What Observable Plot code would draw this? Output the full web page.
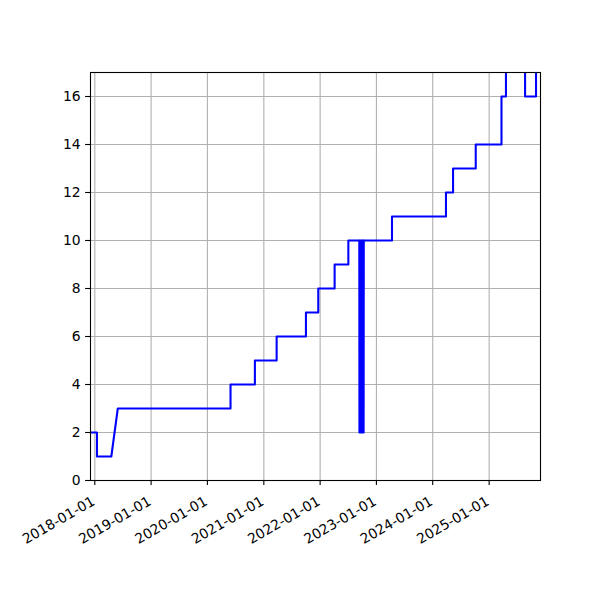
<!DOCTYPE html>
<html>
<head>
<meta charset="utf-8">
<script src="https://cdn.jsdelivr.net/npm/d3@7"></script>
<script src="https://cdn.jsdelivr.net/npm/@observablehq/plot@0.6"></script>
<style>
  html, body { margin: 0; padding: 0; background: #fff; }
</style>
</head>
<body>
<div id="chart"></div>
<script>
// Vertices of the plotted line (date, count)
const dates = [
  "2017-11-20", "2018-01-15", "2018-01-15", "2018-04-18", "2018-05-30",
  "2020-05-30", "2020-05-30", "2020-11-04", "2020-11-04", "2021-03-25", "2021-03-25",
  "2021-10-01", "2021-10-01", "2021-12-20", "2021-12-20", "2022-04-05", "2022-04-05",
  "2022-07-03", "2022-07-03", "2022-09-12",
  "2022-09-13", "2022-09-15", "2022-09-17", "2022-09-19", "2022-09-21", "2022-09-23",
  "2022-09-25", "2022-09-27", "2022-09-29", "2022-10-01", "2022-10-03", "2022-10-05",
  "2022-10-07", "2022-10-09", "2022-10-10", "2022-10-11",
  "2023-04-12", "2023-04-12", "2024-03-27", "2024-03-27", "2024-05-12", "2024-05-12",
  "2024-10-06", "2024-10-06", "2025-03-22", "2025-03-22", "2025-04-20", "2025-04-20",
  "2025-08-22", "2025-08-22", "2025-11-01", "2025-11-01", "2025-12-15"
];
const counts = [
  2, 2, 1, 1, 3,
  3, 4, 4, 5, 5, 6,
  6, 7, 7, 8, 8, 9,
  9, 10, 10,
  2, 10, 2, 10, 2, 10,
  2, 10, 2, 10, 2, 10,
  2, 10, 2, 10,
  10, 11, 11, 12, 12, 13,
  13, 14, 14, 16, 16, 18,
  18, 16, 16, 18, 18
];
const xTickLabels = ["2018-01-01", "2019-01-01", "2020-01-01", "2021-01-01",
                     "2022-01-01", "2023-01-01", "2024-01-01", "2025-01-01"];
const yTicks = [0, 2, 4, 6, 8, 10, 12, 14, 16];
const xDomain = ["2017-12-04", "2025-11-30"];
const yDomain = [0, 17];

const parse = d3.utcParse("%Y-%m-%d");
const data = dates.map((d, i) => ({date: parse(d), value: counts[i]}));
const xTicks = xTickLabels.map(parse);

const fs = 13.9;
const plot = Plot.plot({
  width: 600,
  height: 600,
  marginLeft: 90,
  marginRight: 60,
  marginTop: 72,
  marginBottom: 120,
  style: {fontFamily: "DejaVu Sans", fontSize: fs + "px", color: "black", background: "white"},
  x: {type: "utc", domain: xDomain.map(parse)},
  y: {domain: yDomain},
  marks: [
    Plot.gridX(xTicks, {stroke: "#b0b0b0", strokeOpacity: 1, strokeWidth: 1.1}),
    Plot.gridY(yTicks, {stroke: "#b0b0b0", strokeOpacity: 1, strokeWidth: 1.1}),
    Plot.line(data, {x: "date", y: "value", stroke: "#0000ff", strokeWidth: 2.08,
                     strokeLinejoin: "round", clip: true}),
    Plot.frame({stroke: "black", strokeWidth: 1.1}),
    Plot.axisX({ticks: xTicks, tickSize: 4.9, tickFormat: () => "", strokeWidth: 1.1, stroke: "black"}),
    Plot.text(xTicks, {x: d => d, y: d => 0, text: (d, i) => xTickLabels[i],
                       rotate: -30, textAnchor: "end", lineAnchor: "bottom",
                       dx: 1, dy: 23.5, fill: "black", fontSize: fs}),
    Plot.axisY({ticks: yTicks, tickSize: 4.9, tickPadding: 4.9, strokeWidth: 1.1,
                stroke: "black", fill: "black", fontSize: fs, label: null})
  ]
});
document.getElementById("chart").appendChild(plot);
</script>
</body>
</html>
